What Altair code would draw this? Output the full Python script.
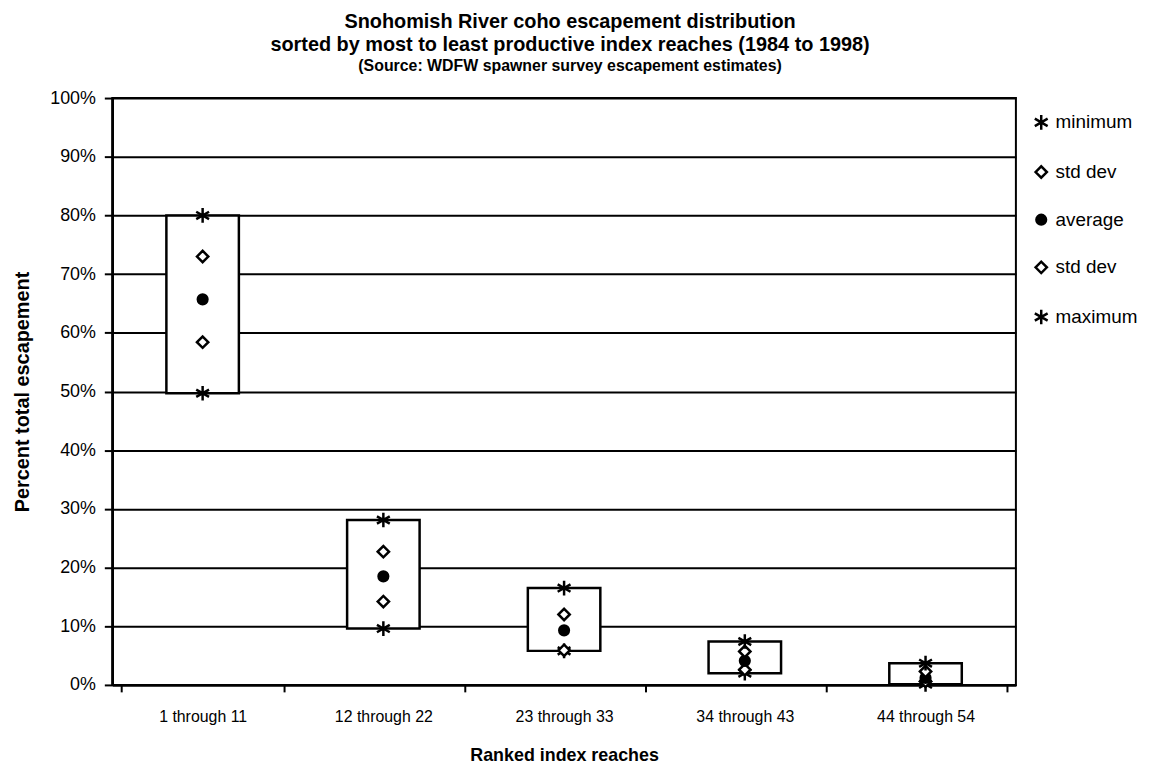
import altair as alt
import pandas as pd

groups = ["1 through 11", "12 through 22", "23 through 33", "34 through 43", "44 through 54"]
minimum = [49.7, 9.6, 5.8, 2.0, 0.1]
std_lo = [58.4, 14.2, 5.9, 2.6, 0.6]
average = [65.7, 18.5, 9.3, 4.1, 1.2]
std_hi = [73.0, 22.7, 12.0, 5.7, 2.3]
maximum = [80.0, 28.1, 16.5, 7.4, 3.7]

keys = ["minimum", "std dev 1", "average", "std dev 2", "maximum"]
series = [minimum, std_lo, average, std_hi, maximum]

box_df = pd.DataFrame({"group": groups, "lo": minimum, "hi": maximum})
rows = []
for k, vals in zip(keys, series):
    for g, v in zip(groups, vals):
        rows.append({"group": g, "stat": k, "value": v})
pt_df = pd.DataFrame(rows)

star = "M0,-1L0,1M-0.87,-0.5L0.87,0.5M-0.87,0.5L0.87,-0.5"

x_enc = alt.X("group:N", sort=groups, title="Ranked index reaches",
              axis=alt.Axis(labelAngle=0, tickBand="extent", tickSize=7,
                            labelFontSize=16, labelPadding=17,
                            titleFontSize=18, titleFontWeight="bold",
                            titlePadding=22, domainColor="black", domainWidth=2,
                            tickColor="black", tickWidth=2, grid=False,
                            labelColor="black", titleColor="black"))
y_scale = alt.Scale(domain=[0, 100], nice=False)

boxes = alt.Chart(box_df).mark_bar(width=73, fill="white", stroke="black", strokeWidth=2.5).encode(
    x=x_enc,
    y=alt.Y("lo:Q", scale=y_scale, title="Percent total escapement",
            axis=alt.Axis(values=list(range(0, 101, 10)), labelExpr="datum.value + '%'",
                          grid=True, gridColor="black", gridWidth=2,
                          domainColor="black", domainWidth=2.5, tickColor="black",
                          tickWidth=2, tickSize=8, labelPadding=9, labelFontSize=18,
                          titleFontSize=20, titleFontWeight="bold", titlePadding=17,
                          labelColor="black", titleColor="black")),
    y2="hi:Q",
)

leg = alt.Legend(title=None, orient="none", legendX=926, legendY=15,
                 labelExpr="replace(replace(datum.label, ' 1', ''), ' 2', '')",
                 labelFontSize=19, labelColor="black", rowPadding=26,
                 symbolStrokeWidth=2.5, labelOffset=5)

points = alt.Chart(pt_df).mark_point(filled=True, strokeWidth=2.5, opacity=1).encode(
    x=alt.X("group:N", sort=groups),
    y=alt.Y("value:Q", scale=y_scale),
    shape=alt.Shape("stat:N", scale=alt.Scale(domain=keys, range=[star, "diamond", "circle", "diamond", star]),
                    legend=leg),
    fill=alt.Fill("stat:N", scale=alt.Scale(domain=keys, range=["white", "white", "black", "white", "white"]),
                  legend=leg),
    stroke=alt.Stroke("stat:N", scale=alt.Scale(domain=keys, range=["black"] * 5), legend=leg),
    size=alt.Size("stat:N", scale=alt.Scale(type="ordinal", domain=keys, range=[220, 130, 95, 130, 220]),
                  legend=leg),
)

chart = alt.layer(boxes, points).properties(
    width=910, height=591,
    autosize=alt.AutoSizeParams(type="none"),
    padding={"left": 105, "top": 88, "right": 129, "bottom": 84},
    title=alt.TitleParams(
        text=["Snohomish River coho escapement distribution",
              "sorted by most to least productive index reaches (1984 to 1998)"],
        subtitle="(Source: WDFW spawner survey escapement estimates)",
        fontSize=20, fontWeight="bold", lineHeight=24, color="black",
        subtitleFontSize=16, subtitleFontWeight="bold", subtitleColor="black",
        subtitlePadding=3, offset=15, anchor="middle", dx=6,
    ),
).configure(font="Liberation Sans").configure_view(stroke="black", strokeWidth=2)

chart.save("out.html", embed_options={"renderer": "svg", "actions": False})
